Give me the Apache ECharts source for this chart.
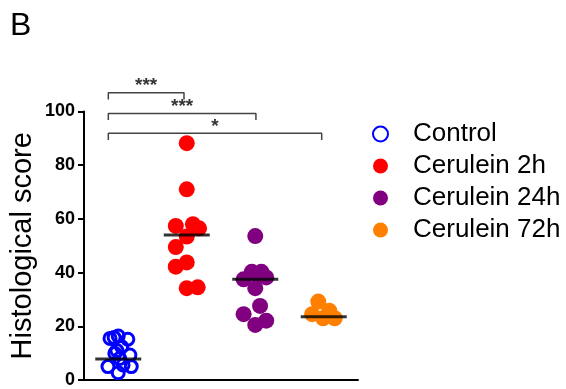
<!DOCTYPE html>
<html>
<head>
<meta charset="utf-8">
<script src="https://cdn.jsdelivr.net/npm/echarts@6/dist/echarts.min.js"></script>
<style>html,body{margin:0;padding:0;background:#fff;}#c{width:566px;height:389px;}</style>
</head>
<body>
<div id="c"></div>
<script>
var groupNames = ['Control', 'Cerulein 2h', 'Cerulein 24h', 'Cerulein 72h'];
var groupColors = ['#0000ff', '#ff0000', '#800080', '#ff8000'];
var yTicks = [0, 20, 40, 60, 80, 100];

var controlValues = [15.5, 16.4, 15.2, 12.4, 9.9, 9.3, 5.0, 5.0, 2.7, 5.6, 8.0, 11.0, 15.8];
var controlJitter = [-0.12, 0.0, 0.14, 0.05, -0.05, 0.17, -0.15, 0.19, 0.0, 0.07, 0.02, -0.02, -0.06];
var c2hValues = [88.2, 71.0, 57.4, 58.0, 56.5, 53.4, 49.5, 43.8, 42.2, 34.2, 34.5];
var c2hJitter = [0.0, 0.0, -0.16, 0.09, 0.18, 0.0, -0.16, 0.0, -0.16, 0.0, 0.16];
var c24hValues = [53.6, 40.3, 40.3, 37.5, 38.2, 34.2, 27.6, 24.5, 22.1, 20.5, 39.0];
var c24hJitter = [0.0, -0.05, 0.09, -0.17, 0.16, 0.0, 0.07, -0.17, 0.16, 0.0, 0.03];
var c72hValues = [29.2, 25.8, 24.5, 23.0, 23.0, 24.0];
var c72hJitter = [-0.08, 0.08, -0.17, -0.01, 0.16, 0.1];
var groupMeans = [7.8, 54.0, 37.5, 23.6];

var bracketStart = [-0.145, -0.145, -0.145];
var bracketEnd = [0.96, 2.01, 2.97];
var bracketY = [107.0, 99.3, 91.9];
var bracketStars = ['***', '***', '*'];

var groupValues = [controlValues, c2hValues, c24hValues, c72hValues];
var groupJitter = [controlJitter, c2hJitter, c24hJitter, c72hJitter];

var series = [];
groupNames.forEach(function (name, g) {
  var data = groupValues[g].map(function (v, i) { return [g + groupJitter[g][i], v]; });
  var isOpen = g === 0;
  series.push({
    name: name,
    type: 'scatter',
    xAxisIndex: 1,
    symbol: 'circle',
    symbolSize: isOpen ? 12 : 16,
    clip: false,
    itemStyle: isOpen
      ? { color: 'rgba(0,0,0,0)', borderColor: groupColors[g], borderWidth: 3, opacity: 1 }
      : { color: groupColors[g], opacity: 1 },
    data: data,
    z: 2
  });
});

series.push({
  name: 'mean',
  type: 'scatter',
  xAxisIndex: 1,
  symbol: 'rect',
  symbolSize: [46, 3],
  itemStyle: { color: '#000' },
  data: groupMeans.map(function (m, g) { return [g, m]; }),
  z: 5
});

bracketY.forEach(function (y, b) {
  var drop = 2.5;
  series.push({
    name: 'bracket' + b,
    type: 'line',
    xAxisIndex: 1,
    clip: false,
    symbol: 'none',
    lineStyle: { color: '#444', width: 1.5 },
    data: [[bracketStart[b], y - drop], [bracketStart[b], y], [bracketEnd[b], y], [bracketEnd[b], y - drop]],
    z: 3
  });
});

series.push({
  name: 'stars',
  type: 'scatter',
  xAxisIndex: 1,
  clip: false,
  symbolSize: 1,
  itemStyle: { color: 'rgba(0,0,0,0)' },
  label: {
    show: true,
    position: 'inside',
    color: '#000',
    fontSize: 19,
    fontWeight: 'bold',
    fontFamily: 'Liberation Sans',
    formatter: function (p) { return bracketStars[p.dataIndex]; }
  },
  data: bracketY.map(function (y, b) { return [(bracketStart[b] + bracketEnd[b]) / 2, y + 2.4]; }),
  z: 4
});

var chart = echarts.init(document.getElementById('c'), null, { renderer: 'canvas' });
chart.setOption({
  animation: false,
  backgroundColor: '#fff',
  graphic: [{
    type: 'text', left: 10, top: 10,
    style: { text: 'B', fontSize: 32, fontFamily: 'Liberation Sans', fill: '#000' }
  }],
  grid: { left: 84, right: 208, top: 111.5, bottom: 9, containLabel: false },
  legend: {
    orient: 'vertical',
    left: 367,
    top: 113,
    itemGap: 0,
    itemWidth: 15,
    itemHeight: 15,
    data: groupNames,
    selectedMode: false,
    textStyle: { fontSize: 26, fontFamily: 'Liberation Sans', color: '#000', lineHeight: 32, padding: [0, 0, 0, 20] }
  },
  xAxis: [{
    type: 'category',
    data: groupNames,
    boundaryGap: true,
    axisLine: { lineStyle: { color: '#000', width: 2 } },
    axisTick: { alignWithLabel: true, length: 6, lineStyle: { color: '#000', width: 2 } },
    axisLabel: { show: false },
    splitLine: { show: false }
  }, {
    type: 'value',
    min: -0.5,
    max: 3.5,
    show: false,
    splitLine: { show: false }
  }],
  yAxis: {
    type: 'value',
    min: yTicks[0],
    max: yTicks[yTicks.length - 1],
    interval: 20,
    name: 'Histological score',
    nameLocation: 'middle',
    nameGap: 47,
    nameTextStyle: { fontSize: 29, fontFamily: 'Liberation Sans', color: '#000' },
    axisLine: { show: true, onZero: false, lineStyle: { color: '#000', width: 2 } },
    axisTick: { show: true, length: 6, lineStyle: { color: '#000', width: 2 } },
    axisLabel: { margin: 9, fontSize: 18, fontWeight: 'bold', fontFamily: 'Liberation Sans', color: '#000' },
    splitLine: { show: false }
  },
  series: series
});
</script>
</body>
</html>
